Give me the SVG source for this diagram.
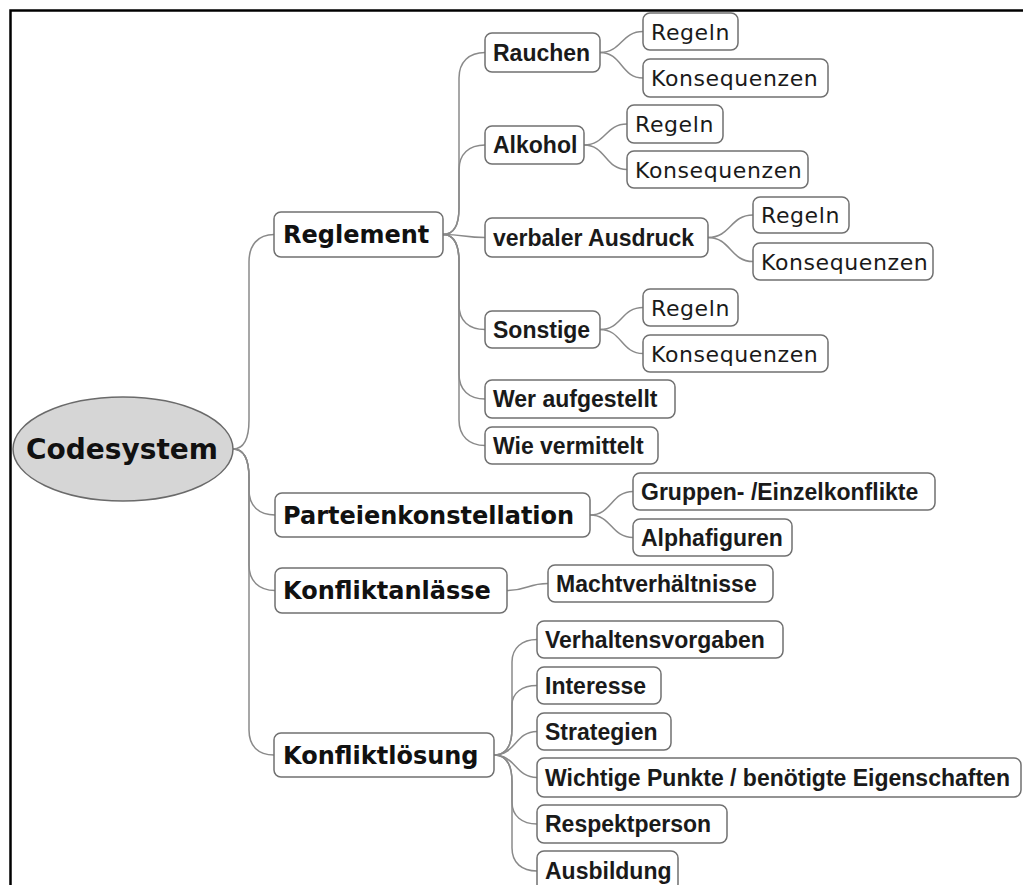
<svg xmlns="http://www.w3.org/2000/svg" width="1023" height="885" viewBox="0 0 1023 885">
<style>
.box{fill:#ffffff;stroke:#707070;stroke-width:1.5}
.con{fill:none;stroke:#8a8a8a;stroke-width:1.5}
.root{font-family:"DejaVu Sans",sans-serif;font-weight:bold;font-size:28px;fill:#111}
.l1{font-family:"DejaVu Sans",sans-serif;font-weight:bold;font-size:24px;fill:#111}
.l2{font-family:"Liberation Sans",Arial,sans-serif;font-weight:bold;font-size:23px;fill:#1a1a1a}
.leaf{font-family:"DejaVu Sans",sans-serif;font-size:22px;letter-spacing:0.6px;fill:#1a1a1a}
</style>
<rect x="0" y="0" width="1023" height="885" fill="#ffffff"/>
<path d="M10.5,885 L10.5,10.5 L1023,10.5" fill="none" stroke="#000" stroke-width="2.5"/>
<g id="connectors">
<path class="con" d="M233,449 C244,449 249,438 249,420 L249,262 C249,245 258,234.5 274,234.5"/>
<path class="con" d="M233,449 C244,449 249,460 249,478 L249,490 C249,506 259,515 275,515"/>
<path class="con" d="M233,449 C244,449 249,460 249,478 L249,565 C249,581 259,590.5 275,590.5"/>
<path class="con" d="M233,449 C244,449 249,460 249,478 L249,730 C249,746 258,755 274,755"/>
<path class="con" d="M443,234.5 C454,234.5 459,225 459,208 L459,78 C459,62 469,52.5 485,52.5"/>
<path class="con" d="M443,234.5 C454,234.5 459,225 459,208 L459,170 C459,154 469,145 485,145"/>
<path class="con" d="M443,234.5 C464,234.5 464,237.5 485,237.5"/>
<path class="con" d="M443,234.5 C454,234.5 459,245 459,262 L459,305 C459,321 469,329.5 485,329.5"/>
<path class="con" d="M443,234.5 C454,234.5 459,245 459,262 L459,374 C459,390 469,399 485,399"/>
<path class="con" d="M443,234.5 C454,234.5 459,245 459,262 L459,420 C459,436 469,445.5 485,445.5"/>
<path class="con" d="M600,52.5 C622,52.5 621,31.5 643,31.5"/>
<path class="con" d="M600,52.5 C622,52.5 621,78 643,78"/>
<path class="con" d="M584,145 C606,145 605,124 627,124"/>
<path class="con" d="M584,145 C606,145 605,169.5 627,169.5"/>
<path class="con" d="M708,237.5 C731,237.5 730,215 753,215"/>
<path class="con" d="M708,237.5 C731,237.5 730,261.5 753,261.5"/>
<path class="con" d="M600,329.5 C622,329.5 621,307.5 643,307.5"/>
<path class="con" d="M600,329.5 C622,329.5 621,353.5 643,353.5"/>
<path class="con" d="M590,515 C612,515 611,491.5 633,491.5"/>
<path class="con" d="M590,515 C612,515 611,537.5 633,537.5"/>
<path class="con" d="M507,590.5 C528,590.5 527,583.5 548,583.5"/>
<path class="con" d="M494,755 C506,755 512,745 512,728 L512,662 C512,648 522,639.5 537,639.5"/>
<path class="con" d="M494,755 C506,755 512,745 512,728 L512,705 C512,693 522,685.5 537,685.5"/>
<path class="con" d="M494,755 C516,755 515,731.5 537,731.5"/>
<path class="con" d="M494,755 C516,755 515,777.5 537,777.5"/>
<path class="con" d="M494,755 C506,755 512,765 512,782 L512,802 C512,816 522,824 537,824"/>
<path class="con" d="M494,755 C506,755 512,765 512,782 L512,848 C512,863 522,871 537,871"/>
</g>
<g id="codesystem"><ellipse cx="123" cy="449" rx="110" ry="52" fill="#d6d6d6" stroke="#6a6a6a" stroke-width="1.5"/><text class="root" x="122" y="459" text-anchor="middle">Codesystem</text></g>
<g id="reglement"><rect class="box" x="274" y="212" width="169" height="45" rx="7"/><text class="l1" x="283" y="243">Reglement</text></g>
<g id="parteienkonstellation"><rect class="box" x="275" y="493" width="315" height="44" rx="7"/><text class="l1" x="283" y="524">Parteienkonstellation</text></g>
<g id="konfliktanlaesse"><rect class="box" x="275" y="568" width="232" height="45" rx="7"/><text class="l1" x="283" y="599">Konfliktanlässe</text></g>
<g id="konfliktloesung"><rect class="box" x="274" y="733" width="220" height="44" rx="7"/><text class="l1" x="283" y="764">Konfliktlösung</text></g>
<g id="rauchen"><rect class="box" x="485" y="33" width="115" height="39" rx="7"/><text class="l2" x="493" y="61">Rauchen</text></g>
<g id="alkohol"><rect class="box" x="485" y="126" width="99" height="38" rx="7"/><text class="l2" x="493" y="153">Alkohol</text></g>
<g id="verbaler"><rect class="box" x="485" y="218" width="223" height="39" rx="7"/><text class="l2" x="493" y="246">verbaler Ausdruck</text></g>
<g id="sonstige"><rect class="box" x="485" y="311" width="115" height="37" rx="7"/><text class="l2" x="493" y="338">Sonstige</text></g>
<g id="wer"><rect class="box" x="485" y="380" width="190" height="38" rx="7"/><text class="l2" x="493" y="407">Wer aufgestellt</text></g>
<g id="wie"><rect class="box" x="485" y="427" width="173" height="37" rx="7"/><text class="l2" x="493" y="454">Wie vermittelt</text></g>
<g id="gruppen"><rect class="box" x="633" y="473" width="302" height="37" rx="7"/><text class="l2" x="641" y="500">Gruppen- /Einzelkonflikte</text></g>
<g id="alphafiguren"><rect class="box" x="633" y="519" width="159" height="37" rx="7"/><text class="l2" x="641" y="546">Alphafiguren</text></g>
<g id="macht"><rect class="box" x="548" y="565" width="225" height="37" rx="7"/><text class="l2" x="556" y="592">Machtverhältnisse</text></g>
<g id="verhalten"><rect class="box" x="537" y="621" width="246" height="37" rx="7"/><text class="l2" x="545" y="648">Verhaltensvorgaben</text></g>
<g id="interesse"><rect class="box" x="537" y="667" width="124" height="37" rx="7"/><text class="l2" x="545" y="694">Interesse</text></g>
<g id="strategien"><rect class="box" x="537" y="713" width="134" height="37" rx="7"/><text class="l2" x="545" y="740">Strategien</text></g>
<g id="wichtige"><rect class="box" x="537" y="758" width="484" height="39" rx="7"/><text class="l2" x="545" y="786">Wichtige Punkte / benötigte Eigenschaften</text></g>
<g id="respekt"><rect class="box" x="537" y="805" width="190" height="38" rx="7"/><text class="l2" x="545" y="832">Respektperson</text></g>
<g id="ausbildung"><rect class="box" x="537" y="851" width="141" height="40" rx="7"/><text class="l2" x="545" y="879">Ausbildung</text></g>
<g id="rauchen-regeln"><rect class="box" x="643" y="13" width="95" height="37" rx="7"/><text class="leaf" x="651" y="40">Regeln</text></g>
<g id="rauchen-konsequenzen"><rect class="box" x="643" y="59" width="185" height="38" rx="7"/><text class="leaf" x="651" y="86">Konsequenzen</text></g>
<g id="alkohol-regeln"><rect class="box" x="627" y="105" width="96" height="38" rx="7"/><text class="leaf" x="635" y="132">Regeln</text></g>
<g id="alkohol-konsequenzen"><rect class="box" x="627" y="151" width="181" height="37" rx="7"/><text class="leaf" x="635" y="178">Konsequenzen</text></g>
<g id="verbal-regeln"><rect class="box" x="753" y="197" width="96" height="36" rx="7"/><text class="leaf" x="761" y="223">Regeln</text></g>
<g id="verbal-konsequenzen"><rect class="box" x="753" y="243" width="180" height="37" rx="7"/><text class="leaf" x="761" y="270">Konsequenzen</text></g>
<g id="sonstige-regeln"><rect class="box" x="643" y="289" width="95" height="37" rx="7"/><text class="leaf" x="651" y="316">Regeln</text></g>
<g id="sonstige-konsequenzen"><rect class="box" x="643" y="335" width="185" height="37" rx="7"/><text class="leaf" x="651" y="362">Konsequenzen</text></g>
</svg>
